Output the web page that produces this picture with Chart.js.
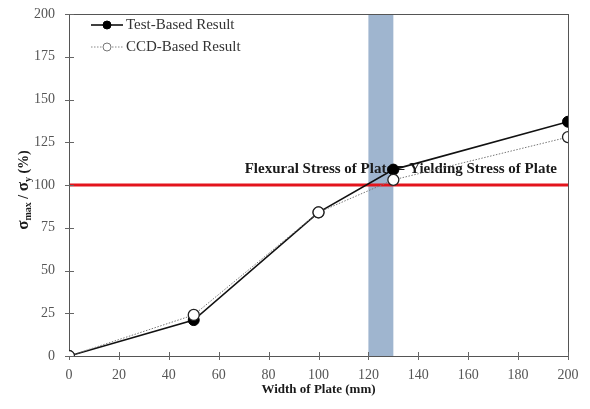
<!DOCTYPE html>
<html><head><meta charset="utf-8">
<script src="https://cdn.jsdelivr.net/npm/chart.js@4/dist/chart.umd.min.js"></script>
<style>html,body{margin:0;padding:0;background:#fff}#wrap{width:590px;height:409px}</style>
</head><body><div id="wrap"><canvas id="c" width="590" height="409"></canvas></div>
<script>
const widths = [0, 50, 100, 130, 200];
const testBased = [0, 21, 84, 109, 137];
const ccdBased = [0, 24, 84, 103, 128];
const xTicks = [0,20,40,60,80,100,120,140,160,180,200];
const yTicks = [0,25,50,75,100,125,150,175,200];
const bandRange = [120, 130];
const yieldLevel = 100;
const noteText = 'Flexural Stress of Plate = Yielding Stress of Plate';
const noteAt = [133, 110];
const xTitle = 'Width of Plate (mm)';

const SERIF = '"Liberation Serif","DejaVu Serif",serif';

const deco = {
  id: 'deco',
  beforeDatasetsDraw(chart) {
    const {ctx, chartArea: a, scales: {x, y}} = chart;
    ctx.save();
    ctx.fillStyle = '#9fb5cf';
    const x1 = x.getPixelForValue(bandRange[0]), x2 = x.getPixelForValue(bandRange[1]);
    ctx.fillRect(x1, a.top, x2 - x1, a.bottom - a.top);
    ctx.strokeStyle = '#e3141c';
    ctx.lineWidth = 3;
    const yy = y.getPixelForValue(yieldLevel);
    ctx.beginPath(); ctx.moveTo(a.left, yy); ctx.lineTo(a.right, yy); ctx.stroke();
    ctx.fillStyle = '#1a1a1a';
    ctx.font = 'bold 15px ' + SERIF;
    ctx.textAlign = 'center'; ctx.textBaseline = 'middle';
    ctx.fillText(noteText, x.getPixelForValue(noteAt[0]), y.getPixelForValue(noteAt[1]) + 1);
    ctx.strokeStyle = '#555';
    ctx.lineWidth = 1;
    ctx.strokeRect(Math.round(a.left) + 0.5, Math.round(a.top) + 0.5, Math.round(a.right - a.left), Math.round(a.bottom - a.top));
    ctx.strokeStyle = '#666';
    ctx.beginPath();
    xTicks.forEach(v => {
      const px = Math.round(x.getPixelForValue(v)) + 0.5;
      ctx.moveTo(px, a.bottom - 4); ctx.lineTo(px, a.bottom + 4);
    });
    yTicks.forEach(v => {
      const py = Math.round(y.getPixelForValue(v)) + 0.5;
      ctx.moveTo(a.left - 4, py); ctx.lineTo(a.left + 5, py);
    });
    ctx.stroke();
    ctx.fillStyle = '#1a1a1a';
    ctx.font = 'bold 13px ' + SERIF;
    ctx.textAlign = 'center'; ctx.textBaseline = 'middle';
    ctx.fillText(xTitle, (a.left + a.right) / 2, a.bottom + 34);
    ctx.restore();
  },
  afterDraw(chart) {
    const {ctx, chartArea: a} = chart;
    ctx.save();
    const items = [
      {label: 'Test-Based Result', fill: '#000', dash: [], color: '#000', y: a.top + 11},
      {label: 'CCD-Based Result', fill: '#fff', dash: [1.5, 1.5], color: '#888', y: a.top + 33}
    ];
    items.forEach(it => {
      const lx = a.left + 22;
      ctx.strokeStyle = it.color; ctx.lineWidth = it.dash.length ? 1 : 1.5;
      ctx.setLineDash(it.dash);
      ctx.beginPath(); ctx.moveTo(lx, it.y); ctx.lineTo(lx + 32, it.y); ctx.stroke();
      ctx.setLineDash([]);
      ctx.beginPath(); ctx.arc(lx + 16, it.y, 4, 0, Math.PI * 2);
      ctx.fillStyle = it.fill; ctx.fill();
      ctx.strokeStyle = it.dash.length ? '#777' : '#000'; ctx.lineWidth = 1; ctx.stroke();
      ctx.fillStyle = '#333';
      ctx.font = '15px ' + SERIF;
      ctx.textAlign = 'left'; ctx.textBaseline = 'middle';
      ctx.fillText(it.label, lx + 35, it.y);
    });
    ctx.translate(23, 190);
    ctx.rotate(-Math.PI / 2);
    ctx.fillStyle = '#1a1a1a';
    ctx.textBaseline = 'alphabetic'; ctx.textAlign = 'left';
    const parts = [
      {t: 'σ', f: 'bold 17px ', dy: 0},
      {t: 'max', f: 'bold 10px ', dy: 3},
      {t: ' / ', f: 'bold 14px ', dy: 0},
      {t: 'σ', f: 'bold 17px ', dy: 0},
      {t: 'y', f: 'bold 10px ', dy: 3},
      {t: ' (%)', f: 'bold 14px ', dy: 0}
    ];
    let total = 0;
    parts.forEach(p => { ctx.font = p.f + SERIF; p.w = ctx.measureText(p.t).width; total += p.w; });
    let px = -total / 2;
    parts.forEach(p => { ctx.font = p.f + SERIF; ctx.fillText(p.t, px, 5 + p.dy); px += p.w; });
    ctx.restore();
  }
};

new Chart(document.getElementById('c'), {
  type: 'scatter',
  data: {
    datasets: [
      {
        label: 'CCD-Based Result',
        data: widths.map((w, i) => ({x: w, y: ccdBased[i]})),
        showLine: true, borderColor: '#777', borderWidth: 1, borderDash: [1.5, 1.5],
        pointRadius: 5.5, pointBackgroundColor: '#fff', pointBorderColor: '#222', pointBorderWidth: 1.3,
        order: 0
      },
      {
        label: 'Test-Based Result',
        data: widths.map((w, i) => ({x: w, y: testBased[i]})),
        showLine: true, borderColor: '#111', borderWidth: 1.6,
        pointRadius: 5.5, pointBackgroundColor: '#000', pointBorderColor: '#000', pointBorderWidth: 1,
        order: 1
      }
    ]
  },
  options: {
    responsive: false, animation: false,
    layout: {padding: {left: 0, right: 22, top: 14, bottom: 0}},
    plugins: {legend: {display: false}, tooltip: {enabled: false}},
    scales: {
      x: {
        type: 'linear', min: 0, max: 200,
        afterBuildTicks: s => { s.ticks = xTicks.map(v => ({value: v})); },
        afterFit: s => { s.height = 53; s.paddingLeft = 0; s.paddingRight = 0; },
        grid: {display: false, drawTicks: false},
        border: {display: false},
        ticks: {color: '#555', font: {family: SERIF, size: 14}, padding: 11, maxRotation: 0}
      },
      y: {
        type: 'linear', min: 0, max: 200,
        afterBuildTicks: s => { s.ticks = yTicks.map(v => ({value: v})); },
        afterFit: s => { s.width = 69; s.paddingTop = 0; s.paddingBottom = 0; },
        grid: {display: false, drawTicks: false},
        border: {display: false},
        ticks: {color: '#555', font: {family: SERIF, size: 14}, padding: 14}
      }
    }
  },
  plugins: [deco]
});
</script></body></html>
